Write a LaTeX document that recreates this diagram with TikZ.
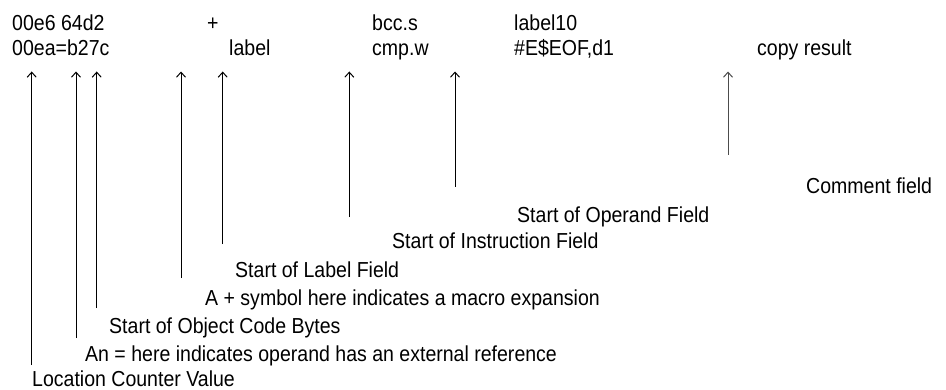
\documentclass[tikz,border=0pt]{standalone}
\usepackage{fontspec}
\setmainfont[FakeStretch=0.9]{Liberation Sans}
\usetikzlibrary{arrows.meta}
\begin{document}
\begin{tikzpicture}[x=1pt,y=1pt,
  txt/.style={anchor=base west, inner sep=0pt, font=\fontsize{21.7}{26}\selectfont},
  ptr/.style={draw=black, line width=1pt, -{Straight Barb[length=5pt,width=9pt]}},
  ptrgray/.style={ptr, draw=black!70}]
\useasboundingbox (0,0) rectangle (946,389);
% listing lines
\node[txt] (loc1) at (12,358) {00e6 64d2};
\node[txt] (plus) at (207,358) {+};
\node[txt] (ins1) at (372,358) {bcc.s};
\node[txt] (opd1) at (514,358) {label10};
\node[txt] (loc2) at (12,333) {00ea=b27c};
\node[txt] (lab2) at (229,333) {label};
\node[txt] (ins2) at (372,333) {cmp.w};
\node[txt] (opd2) at (514,333) {\#E\$EOF,d1};
\node[txt] (com2) at (757,333) {copy result};
% explanations
\node[txt] (tcom) at (806,196) {Comment field};
\node[txt] (topd) at (517,167) {Start of Operand Field};
\node[txt] (tins) at (392,141) {Start of Instruction Field};
\node[txt] (tlab) at (235,112) {Start of Label Field};
\node[txt] (tmac) at (205,84) {A + symbol here indicates a macro expansion};
\node[txt] (tobj) at (109,56) {Start of Object Code Bytes};
\node[txt] (text) at (85,28) {An = here indicates operand has an external reference};
\node[txt] (tloc) at (32,3) {Location Counter Value};
% arrow end points
\coordinate (a1b) at (31.7,24);   \coordinate (a1t) at (31.7,317.5);
\coordinate (a2b) at (76,51);     \coordinate (a2t) at (76,317.5);
\coordinate (a3b) at (96.7,81);   \coordinate (a3t) at (96.7,317.5);
\coordinate (a4b) at (181,111);   \coordinate (a4t) at (181,317.5);
\coordinate (a5b) at (222.7,145); \coordinate (a5t) at (222.7,317.5);
\coordinate (a6b) at (349.3,172); \coordinate (a6t) at (349.3,317.5);
\coordinate (a7b) at (455,202);   \coordinate (a7t) at (455,317.5);
\coordinate (a8b) at (728,234);   \coordinate (a8t) at (728,317.5);
\draw[ptr] (a1b) -- (a1t);
\draw[ptr] (a2b) -- (a2t);
\draw[ptr] (a3b) -- (a3t);
\draw[ptr] (a4b) -- (a4t);
\draw[ptr] (a5b) -- (a5t);
\draw[ptr] (a6b) -- (a6t);
\draw[ptr] (a7b) -- (a7t);
\draw[ptrgray] (a8b) -- (a8t);
\end{tikzpicture}
\end{document}
